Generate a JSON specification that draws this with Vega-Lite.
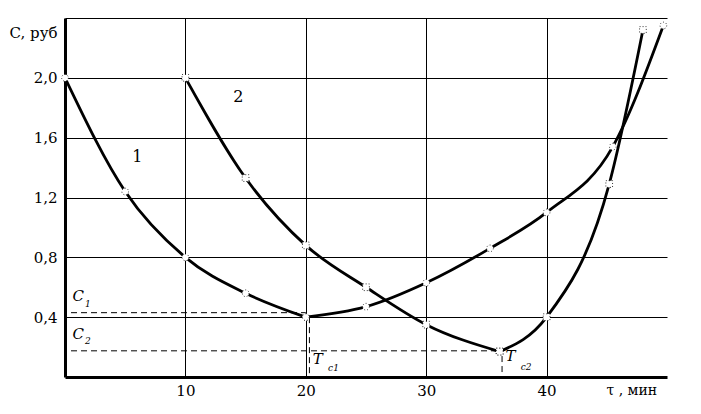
{
  "$schema": "https://vega.github.io/schema/vega-lite/v6.json",
  "width": 602,
  "height": 359,
  "autosize": "none",
  "padding": {"left": 65, "top": 18, "right": 34, "bottom": 37},
  "background": "white",
  "config": {"view": {"stroke": null}, "font": "DejaVu Serif"},
  "datasets": {
    "curves": [
      {"curve": "1", "seg": "1a", "x": 0, "y": 2.0},
      {"curve": "1", "seg": "1a", "x": 5, "y": 1.24},
      {"curve": "1", "seg": "1a", "x": 10, "y": 0.8},
      {"curve": "1", "seg": "1a", "x": 15, "y": 0.56},
      {"curve": "1", "seg": "1a", "x": 20, "y": 0.4},
      {"curve": "1", "seg": "1b", "x": 20, "y": 0.4},
      {"curve": "1", "seg": "1b", "x": 25, "y": 0.47},
      {"curve": "1", "seg": "1b", "x": 30, "y": 0.63},
      {"curve": "1", "seg": "1b", "x": 35.3, "y": 0.86},
      {"curve": "1", "seg": "1b", "x": 40, "y": 1.1},
      {"curve": "1", "seg": "1b", "x": 45.5, "y": 1.54},
      {"curve": "1", "seg": "1b", "x": 49.7, "y": 2.35},
      {"curve": "2", "seg": "2a", "x": 10, "y": 2.0},
      {"curve": "2", "seg": "2a", "x": 15, "y": 1.33},
      {"curve": "2", "seg": "2a", "x": 20, "y": 0.88},
      {"curve": "2", "seg": "2a", "x": 25, "y": 0.6},
      {"curve": "2", "seg": "2a", "x": 30, "y": 0.35},
      {"curve": "2", "seg": "2a", "x": 36.1, "y": 0.17},
      {"curve": "2", "seg": "2b", "x": 36.1, "y": 0.17},
      {"curve": "2", "seg": "2b", "x": 40, "y": 0.4},
      {"curve": "2", "seg": "2b", "x": 45.2, "y": 1.29},
      {"curve": "2", "seg": "2b", "x": 48, "y": 2.32}
    ],
    "dashes": [
      {"x": 0.5, "x2": 20, "y": 0.43, "y2": 0.43},
      {"x": 0.5, "x2": 36, "y": 0.175, "y2": 0.175},
      {"x": 20.3, "x2": 20.3, "y": 0.4, "y2": 0},
      {"x": 36.3, "x2": 36.3, "y": 0.14, "y2": 0}
    ],
    "labels": [
      {"x": 6.0, "y": 1.47, "t": "1"},
      {"x": 14.4, "y": 1.87, "t": "2"}
    ],
    "letters": [
      {"x": 1.1, "y": 0.54, "t": "C"},
      {"x": 1.1, "y": 0.29, "t": "C"},
      {"x": 21.0, "y": 0.12, "t": "T"},
      {"x": 37.0, "y": 0.14, "t": "T"}
    ],
    "subs": [
      {"x": 1.9, "y": 0.49, "t": "1"},
      {"x": 1.9, "y": 0.24, "t": "2"},
      {"x": 22.3, "y": 0.06, "t": "с1"},
      {"x": 38.3, "y": 0.07, "t": "с2"}
    ]
  },
  "encoding": {
    "x": {
      "field": "x", "type": "quantitative",
      "scale": {"domain": [0, 50], "nice": false, "zero": false},
      "axis": {
        "values": [10, 20, 30, 40],
        "grid": true, "gridColor": "black", "gridWidth": 1, "gridOpacity": 1,
        "domainColor": "black", "domainWidth": 3,
        "ticks": false,
        "labelFont": "DejaVu Serif", "labelFontSize": 15, "labelColor": "black",
        "labelPadding": 6,
        "title": "τ , мин",
        "titleFont": "DejaVu Serif", "titleFontSize": 14, "titleFontWeight": "normal",
        "titleColor": "black", "titleAlign": "left", "titleAnchor": null,
        "titleX": 541, "titleY": 20, "titleBaseline": "bottom"
      }
    },
    "y": {
      "field": "y", "type": "quantitative",
      "scale": {"domain": [0, 2.4], "nice": false, "zero": false},
      "axis": {
        "values": [0.4, 0.8, 1.2, 1.6, 2.0, 2.4],
        "labelExpr": "datum.value > 2.2 ? '' : replace(format(datum.value, '.1f'), '.', ',')",
        "grid": true, "gridColor": "black", "gridWidth": 1, "gridOpacity": 1,
        "domainColor": "black", "domainWidth": 3,
        "ticks": false,
        "labelFont": "DejaVu Serif", "labelFontSize": 15, "labelColor": "black",
        "labelPadding": 8,
        "title": "C, руб",
        "titleFont": "DejaVu Serif", "titleFontSize": 15, "titleFontWeight": "normal",
        "titleColor": "black", "titleAngle": 0, "titleAlign": "right", "titleAnchor": null,
        "titleX": -8, "titleY": 22, "titleBaseline": "bottom"
      }
    }
  },
  "layer": [
    {
      "data": {"name": "dashes"},
      "mark": {"type": "rule", "color": "black", "strokeWidth": 1, "strokeDash": [6, 4]},
      "encoding": {"x2": {"field": "x2"}, "y2": {"field": "y2"}}
    },
    {
      "data": {"name": "curves"},
      "mark": {"type": "line", "color": "black", "strokeWidth": 2.8, "interpolate": "monotone"},
      "encoding": {"detail": {"field": "seg"}}
    },
    {
      "data": {"name": "curves"},
      "mark": {"type": "point", "filled": false, "fill": "white", "fillOpacity": 1, "stroke": "black", "strokeWidth": 0.8, "strokeDash": [1, 2], "size": 45, "opacity": 1},
      "encoding": {
        "shape": {"field": "curve", "type": "nominal", "scale": {"domain": ["1", "2"], "range": ["circle", "square"]}, "legend": null}
      }
    },
    {
      "data": {"name": "labels"},
      "mark": {"type": "text", "font": "DejaVu Serif", "fontSize": 16, "color": "black"},
      "encoding": {"text": {"field": "t"}}
    },
    {
      "data": {"name": "letters"},
      "mark": {"type": "text", "font": "DejaVu Serif", "fontSize": 15, "fontStyle": "italic", "color": "black"},
      "encoding": {"text": {"field": "t"}}
    },
    {
      "data": {"name": "subs"},
      "mark": {"type": "text", "font": "DejaVu Serif", "fontSize": 9, "fontStyle": "italic", "color": "black"},
      "encoding": {"text": {"field": "t"}}
    }
  ]
}
